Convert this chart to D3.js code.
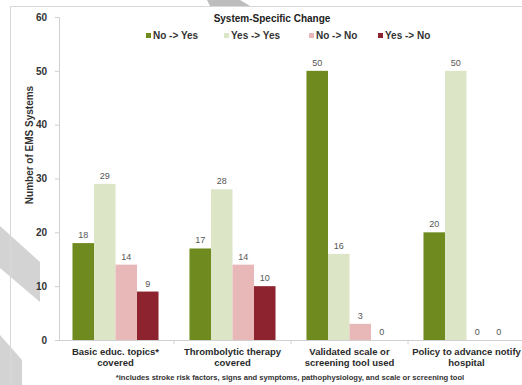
<!DOCTYPE html>
<html>
<head>
<meta charset="utf-8">
<script src="https://cdn.jsdelivr.net/npm/d3@7"></script>
<style>
body { margin: 0; background: #fff; }
svg { font-family: "Liberation Sans", Arial, sans-serif; }
</style>
</head>
<body>
<div id="chart"></div>
<script>
var categories = [
  ["Basic educ. topics*", "covered"],
  ["Thrombolytic therapy", "covered"],
  ["Validated scale or", "screening tool used"],
  ["Policy to advance notify", "hospital"]
];
var seriesNames = ["No -> Yes", "Yes -> Yes", "No -> No", "Yes -> No"];
var noToYes  = [18, 17, 50, 20];
var yesToYes = [29, 28, 16, 50];
var noToNo   = [14, 14, 3, 0];
var yesToNo  = [9, 10, 0, 0];
var yTicks = [0, 10, 20, 30, 40, 50, 60];

var colors = ["#6f8a1e", "#dce6c6", "#e8b8b8", "#8e2330"];
var series = [noToYes, yesToYes, noToNo, yesToNo];

var width = 522, height = 385;

var svg = d3.select("#chart").append("svg")
  .attr("width", width)
  .attr("height", height);

// frame and watermark shapes
svg.append("polygon")
  .attr("points", "0,226 40,262 40,302 0,268")
  .attr("fill", "#c8c8c8").attr("opacity", 0.8);
svg.append("polygon")
  .attr("points", "0,335 22,360 22,385 0,385")
  .attr("fill", "#c8c8c8").attr("opacity", 0.8);
svg.append("polygon")
  .attr("points", "207,0 240,0 250,6 210,6")
  .attr("fill", "#bdbdbd");
svg.append("line")
  .attr("x1", 10).attr("x2", width).attr("y1", 6.5).attr("y2", 6.5)
  .attr("stroke", "#d8d8d8");
svg.append("line")
  .attr("x1", 10.5).attr("x2", 10.5).attr("y1", 6).attr("y2", height)
  .attr("stroke", "#d8d8d8");

var y = d3.scaleLinear()
  .domain([0, 60])
  .range([340, 17]);

var x0 = d3.scaleBand()
  .domain(d3.range(categories.length))
  .range([57, 525]);

var x1 = d3.scaleBand()
  .domain(d3.range(seriesNames.length))
  .range([0, x0.bandwidth()])
  .paddingOuter(0.72);

// y axis
var yAxis = d3.axisLeft(y).tickValues(yTicks).tickSize(4).tickPadding(8);
var gy = svg.append("g")
  .attr("transform", "translate(59,0)")
  .call(yAxis);
gy.select(".domain").attr("stroke", "#d0d0d0");
gy.selectAll(".tick line").attr("stroke", "#d0d0d0");
gy.selectAll(".tick text")
  .attr("fill", "#333")
  .style("font-size", "10px")
  .style("font-weight", "bold");

// x axis baseline and separators
svg.append("line")
  .attr("x1", 59).attr("x2", width).attr("y1", 340.5).attr("y2", 340.5)
  .attr("stroke", "#d0d0d0");
svg.selectAll(".sep")
  .data(d3.range(1, categories.length))
  .enter().append("line")
  .attr("class", "sep")
  .attr("x1", function(d){ return x0(d); })
  .attr("x2", function(d){ return x0(d); })
  .attr("y1", 340).attr("y2", 344)
  .attr("stroke", "#d0d0d0");

// y axis title
svg.append("text")
  .attr("transform", "translate(33,145) rotate(-90)")
  .attr("text-anchor", "middle")
  .style("font-size", "10px")
  .style("font-weight", "bold")
  .attr("fill", "#333")
  .text("Number of EMS Systems");

// bars
var groups = svg.selectAll(".group")
  .data(categories)
  .enter().append("g")
  .attr("class", "group")
  .attr("transform", function(d, i){ return "translate(" + x0(i) + ",0)"; });

groups.each(function(c, i){
  var g = d3.select(this);
  series.forEach(function(s, j){
    var v = s[i];
    g.append("rect")
      .attr("x", x1(j))
      .attr("width", x1.bandwidth())
      .attr("y", y(v))
      .attr("height", y(0) - y(v))
      .attr("fill", colors[j]);
    g.append("text")
      .attr("x", x1(j) + x1.bandwidth() / 2)
      .attr("y", y(v) - 5)
      .attr("text-anchor", "middle")
      .style("font-size", "9px")
      .attr("fill", "#555")
      .text(v);
  });
  var t = g.append("text")
    .attr("text-anchor", "middle")
    .style("font-size", "9.5px")
    .style("font-weight", "bold")
    .attr("fill", "#2a2a2a");
  c.forEach(function(line, k){
    t.append("tspan")
      .attr("x", x0.bandwidth() / 2)
      .attr("y", 355 + k * 11)
      .text(line);
  });
});

// title
svg.append("text")
  .attr("x", 272).attr("y", 22)
  .attr("text-anchor", "middle")
  .style("font-size", "10px")
  .style("font-weight", "bold")
  .attr("fill", "#222")
  .text("System-Specific Change");

// legend
var legendX = [146, 224, 309, 378];
var legend = svg.selectAll(".legend")
  .data(seriesNames)
  .enter().append("g")
  .attr("class", "legend")
  .attr("transform", function(d, i){ return "translate(" + legendX[i] + ",34)"; });
legend.append("rect")
  .attr("x", 0).attr("y", -1).attr("width", 5).attr("height", 5)
  .attr("fill", function(d, i){ return colors[i]; });
legend.append("text")
  .attr("x", 7).attr("y", 5)
  .style("font-size", "10px")
  .style("font-weight", "bold")
  .attr("fill", "#333")
  .text(function(d){ return d; });

// footnote
svg.append("text")
  .attr("x", 290).attr("y", 380)
  .attr("text-anchor", "middle")
  .style("font-size", "7.6px")
  .style("font-weight", "bold")
  .attr("fill", "#333")
  .text("*includes stroke risk factors, signs and symptoms, pathophysiology, and scale or screening tool");
</script>
</body>
</html>
